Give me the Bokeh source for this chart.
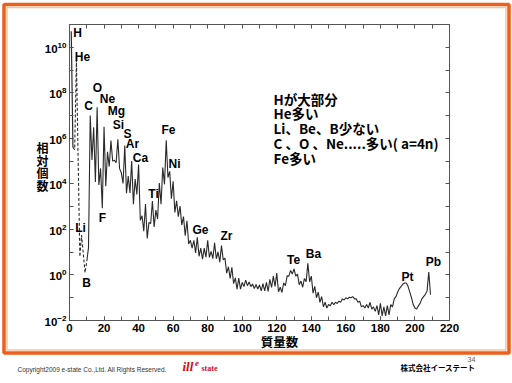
from bokeh.plotting import figure
from bokeh.models import (LinearAxis, LogAxis, FixedTicker, Label, BoxAnnotation, Range1d)
from bokeh.embed import file_html
from bokeh.resources import INLINE

# ---------------- data (log10 of relative abundance, Si = 1e6) ----------------
mass_h = [1, 2]
log_h = [10.7, 5.6]

mass_light = [2, 3, 4, 6, 7, 9, 10]
log_light = [5.6, 5.5, 9.43, 0.8, 1.75, 0.1, 0.6]

mass_main = list(range(10, 210))
log_main = [
    0.6, 1.2, 7.0, 5.05, 6.49, 4.08, 7.37, 3.95, 4.68, 2.93,          # 10-19
    6.51, 3.90, 5.41, 4.76, 5.90, 5.00, 5.04, 4.93, 5.96, 4.67,       # 20-29
    4.49, 4.02, 5.69, 3.59, 4.34, 3.60, 5.00, 3.11, 4.21, 3.54,       # 30-39
    4.85, 2.40, 2.60, 1.92, 3.11, 1.60, 2.30, 2.26, 3.25, 2.11,       # 40-49
    2.85, 2.46, 4.04, 3.11, 4.72, 3.98, 5.91, 4.28, 4.55, 3.35,       # 50-59
    4.11, 2.75, 3.26, 2.56, 3.03, 2.20, 2.56, 1.72, 2.38, 1.36,       # 60-69
    1.52, 1.18, 1.52, 0.97, 1.65, 0.82, 1.18, 0.69, 1.18, 0.78,       # 70-79
    1.52, 0.77, 1.04, 0.72, 1.41, 0.71, 1.01, 0.56, 1.29, 0.66,       # 80-89
    0.74, 0.08, 0.36, -0.15, 0.34, -0.38, -0.13, -0.62, -0.14, -0.62, # 90-99
    -0.33, -0.51, -0.23, -0.47, -0.31, -0.51, -0.40, -0.60, -0.42, -0.62,  # 100-109
    -0.44, -0.70, -0.38, -0.70, -0.33, -0.72, -0.19, -0.55, -0.05, -0.50,  # 110-119
    0.08, -0.74, -0.54, -0.77, -0.35, -0.47, -0.04, -0.05, 0.20, 0.04,     # 120-129
    0.27, -0.05, 0.04, -0.43, -0.27, -0.54, -0.15, -0.30, 0.51, -0.30,     # 130-139
    -0.05, -0.80, -0.50, -1.00, -0.75, -1.20, -0.95, -1.40, -1.20, -1.45,  # 140-149
    -1.30, -1.35, -1.20, -1.30, -1.20, -1.25, -1.15, -1.20, -1.05, -1.10,  # 150-159
    -1.00, -1.05, -0.98, -1.00, -0.95, -1.05, -1.05, -1.20, -1.15, -1.40,  # 160-169
    -1.35, -1.45, -1.30, -1.45, -1.20, -1.50, -1.40, -1.60, -1.35, -1.75,  # 170-179
    -1.25, -1.80, -1.40, -1.80, -1.35, -1.75, -1.30, -1.40, -1.05, -0.95,  # 180-189
    -0.75, -0.60, -0.50, -0.40, -0.35, -0.35, -0.50, -0.75, -1.00, -1.30,  # 190-199
    -1.45, -1.50, -1.35, -1.25, -1.05, -0.95, -0.85, -0.70, 0.13, -0.87,   # 200-209
]

element_labels = [
    ("H", 77, 32), ("He", 82, 56), ("C", 88, 105), ("O", 97, 87), ("Ne", 107, 98),
    ("Mg", 116, 110), ("Si", 118, 124), ("S", 127, 133), ("Ar", 132, 143),
    ("Ca", 140, 157), ("Fe", 168, 129), ("Ni", 174, 163), ("Ti", 153, 193),
    ("F", 102, 217), ("Li", 80, 227), ("B", 86, 282), ("Ge", 200, 229),
    ("Zr", 226, 235), ("Te", 293, 259), ("Ba", 313, 253), ("Pt", 407, 276),
    ("Pb", 433, 261),
]

notes = ["Hが大部分", "He多い", "Li、Be、B少ない", "C 、O 、Ne.....多い( a=4n)", "Fe多い"]

x_ticks = list(range(0, 221, 20))
x_minor = list(range(0, 221, 10))
y_major = [10.0 ** k for k in range(-2, 11, 2)]
y_minor = [10.0 ** k for k in range(-2, 12)]

W, H = 512, 383
X0, XS = 69.0, 380.0 / 220.0
Y0, YS = 320.0, 296.0 / 13.0


def dx(px):
    return (px - X0) / XS


def dy(py):
    return 10 ** ((Y0 - py) / YS - 2)


FONT = "Liberation Sans"
JFONT = "Noto Sans CJK JP"
AX = "#555555"

# ---------------- slide background (frame, captions, footer) ----------------
bg = figure(width=W, height=H, title=None, output_backend="svg", toolbar_location=None,
            x_range=Range1d(0, W), y_range=Range1d(H, 0), min_border=0,
            x_axis_location=None, y_axis_location=None)
bg.grid.visible = False
bg.outline_line_color = None
bg.background_fill_color = "white"
bg.border_fill_color = "white"

bg.add_layout(BoxAnnotation(left=3.5, right=508.5, top=4, bottom=352.5, fill_alpha=0,
                            line_color="#ee5f1c", line_alpha=1, line_width=3.5))
bg.add_layout(BoxAnnotation(left=6.5, right=505.5, top=7, bottom=349.5, fill_alpha=0,
                            line_color="#f8c4a2", line_alpha=1, line_width=1.5))


def blabel(text, px, py, size, font=JFONT, style="bold", color="black", align="center"):
    bg.add_layout(Label(x=px, y=py, text=text, text_font=font, text_font_style=style,
                        text_font_size=size, text_align=align, text_baseline="middle",
                        text_color=color))


for i, ch in enumerate("相対個数"):
    blabel(ch, 42, 147 + 12.6 * i, "12px")
blabel("質量数", 279, 341, "12.5px")
blabel("Copyright2009 e-state Co.,Ltd. All Rights Reserved.", 17, 369, "6.5px",
       font=FONT, style="normal", color="#333333", align="left")
blabel("ill", 182, 366, "13px", font="Liberation Serif", style="bold italic",
       color="#d01010", align="left")
blabel("e", 194.5, 362, "9px", font="Liberation Serif", style="bold italic",
       color="#d01010", align="left")
blabel("state", 201, 368, "8px", font="Liberation Serif", style="bold",
       color="#d01010", align="left")
blabel("株式会社イーステート", 400, 367, "7.5px", align="left")
blabel("34", 471, 359, "7px", font=FONT, style="normal", color="#555555")

# ---------------- chart (overlaid on the slide) ----------------
p = figure(width=W, height=H, title=None, output_backend="svg", toolbar_location=None,
           x_range=Range1d(0, 220), y_range=Range1d(1e-2, 1e11), y_axis_type="log",
           min_border_left=69, min_border_right=63, min_border_top=24, min_border_bottom=63)
p.grid.visible = False
p.background_fill_color = "white"
p.border_fill_color = None
p.outline_line_color = AX
p.outline_line_width = 1
p.margin = (-H, 0, 0, 0)

xa = p.xaxis[0]
xa.ticker = FixedTicker(ticks=x_ticks, minor_ticks=x_minor)
xa.major_label_text_font = FONT
xa.major_label_text_font_style = "bold"
xa.major_label_text_font_size = "11.5px"
xa.major_label_text_color = "black"
xa.major_tick_in, xa.major_tick_out = 4, 0
xa.minor_tick_in, xa.minor_tick_out = 4, 0
xa.axis_line_color = AX
xa.major_tick_line_color = AX
xa.minor_tick_line_color = AX
xa.major_label_standoff = 3

ya = p.yaxis[0]
ya.ticker = FixedTicker(ticks=y_major, minor_ticks=y_minor)
ya.major_label_text_font = FONT
ya.major_label_text_font_style = "bold"
ya.major_label_text_font_size = "11.5px"
ya.major_label_text_color = "black"
ya.major_tick_in, ya.major_tick_out = 4, 0
ya.minor_tick_in, ya.minor_tick_out = 4, 0
ya.axis_line_color = AX
ya.major_tick_line_color = AX
ya.minor_tick_line_color = AX
ya.major_label_standoff = 3

top = LinearAxis(ticker=FixedTicker(ticks=x_minor), major_label_text_font_size="2px",
                 major_label_text_color=None, major_label_standoff=0,
                 major_tick_in=4, major_tick_out=0, minor_tick_line_color=None,
                 axis_line_color=AX, major_tick_line_color=AX)
p.add_layout(top, "above")
right = LogAxis(ticker=FixedTicker(ticks=y_minor), major_label_text_font_size="2px",
                major_label_text_color=None, major_label_standoff=0,
                major_tick_in=4, major_tick_out=0, minor_tick_line_color=None,
                axis_line_color=AX, major_tick_line_color=AX)
p.add_layout(right, "right")

p.line(mass_h, [10 ** v for v in log_h], line_color="#2a2a2a", line_width=1.2)
p.line(mass_light, [10 ** v for v in log_light], line_color="#2a2a2a", line_width=1.1,
       line_dash="3 2")
p.line(mass_main, [10 ** v for v in log_main], line_color="#2a2a2a", line_width=1.1)

for name, px, py in element_labels:
    p.add_layout(Label(x=dx(px), y=dy(py), text=name, text_font=FONT, text_font_style="bold",
                       text_font_size="12px", text_align="center", text_baseline="middle",
                       text_color="black"))

for i, t in enumerate(notes):
    p.add_layout(Label(x=dx(273), y=dy(98 + 14.8 * i), text=t, text_font=JFONT,
                       text_font_style="bold", text_font_size="13.5px", text_align="left",
                       text_baseline="middle", text_color="black"))

open("out.html", "w").write(file_html([bg, p], INLINE))
